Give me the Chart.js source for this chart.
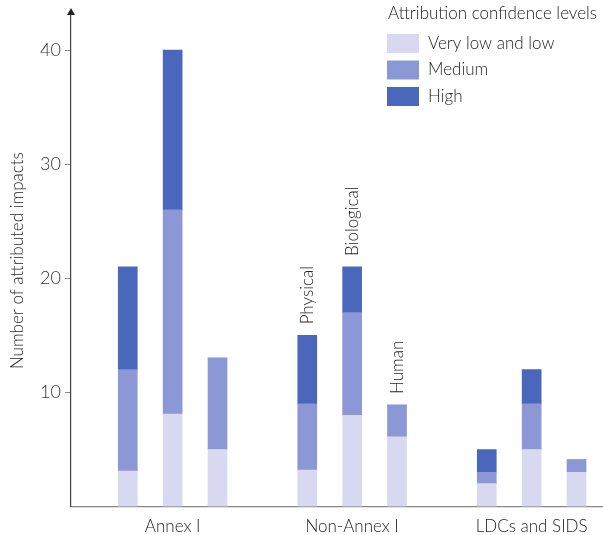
<!DOCTYPE html>
<html lang="en">

<head>
    <meta charset="UTF-8">
    <title>Attributed impacts</title>
    <style>
        html, body { margin: 0; padding: 0; background: #fff; }
        #wrap { width: 603px; height: 535px; }
    </style>
</head>

<body>
    <div id="wrap"><canvas id="myChart" width="603" height="535"></canvas></div>

    <script src="https://cdn.jsdelivr.net/npm/chart.js@4.4.1/dist/chart.umd.min.js"></script>
    <script>
        // 資料
        const groups = ['Annex I', 'Non-Annex I', 'LDCs and SIDS'];
        const impactTypes = ['Physical', 'Biological', 'Human'];
        // per bar: Annex I (P, B, H), Non-Annex I (P, B, H), LDCs and SIDS (P, B, H)
        const veryLowLow = [3.1, 8.1, 5, 3.2, 8, 6.1, 2, 5, 3];
        const medium = [8.9, 17.9, 8, 5.8, 9, 2.8, 1, 4, 1.1];
        const high = [9, 14, 0, 6, 4, 0, 2, 3, 0];
        const yTicks = [10, 20, 30, 40];
        const levelNames = ['Very low and low', 'Medium', 'High'];
        const colors = ['#d8d9f0', '#8c97d5', '#4a67bb'];

        // one empty slot between groups
        const xPos = (g, b) => g * 4 + b + 1;
        const toPoints = arr => arr.map((v, i) => ({ x: xPos(Math.floor(i / 3), i % 3), y: v }));

        const FONT = 'Lato, "Open Sans", sans-serif';
        const TEXT = '#1e1e1e';

        // legend + labels + arrow
        const extras = {
            id: 'extras',
            afterDraw(chart) {
                const ctx = chart.ctx;
                const area = chart.chartArea;
                const ys = chart.scales.y;
                const xs = chart.scales.x;
                ctx.save();

                // arrow on y axis
                ctx.fillStyle = '#222';
                ctx.beginPath();
                ctx.moveTo(area.left, 8);
                ctx.lineTo(area.left - 4, 15);
                ctx.lineTo(area.left + 4, 15);
                ctx.closePath();
                ctx.fill();

                // legend
                ctx.fillStyle = TEXT;
                ctx.font = '300 17px ' + FONT;
                ctx.textBaseline = 'middle';
                ctx.textAlign = 'left';
                ctx.fillText('Attribution confidence levels', 388, 14);
                ctx.font = '300 17px ' + FONT;
                chart.data.datasets.forEach((ds, i) => {
                    const cy = 43.5 + i * 26.5;
                    ctx.fillStyle = ds.backgroundColor;
                    ctx.fillRect(387, cy - 9.5, 32, 19);
                    ctx.fillStyle = TEXT;
                    ctx.fillText(ds.label, 428, cy);
                });

                // bar labels over Non-Annex I
                ctx.font = '300 17px ' + FONT;
                ctx.fillStyle = TEXT;
                impactTypes.forEach((t, b) => {
                    const i = 3 + b;
                    const total = veryLowLow[i] + medium[i] + high[i];
                    const px = xs.getPixelForValue(xPos(1, b));
                    const py = ys.getPixelForValue(total) - 11;
                    ctx.save();
                    ctx.translate(px, py);
                    ctx.rotate(-Math.PI / 2);
                    ctx.textAlign = 'left';
                    ctx.textBaseline = 'middle';
                    ctx.fillText(t, 0, 0);
                    ctx.restore();
                });
                ctx.restore();
            }
        };

        const ctx = document.getElementById('myChart').getContext('2d');
        const myChart = new Chart(ctx, {
            type: 'bar',
            data: {
                datasets: [
                    { label: levelNames[0], data: toPoints(veryLowLow), backgroundColor: colors[0] },
                    { label: levelNames[1], data: toPoints(medium), backgroundColor: colors[1] },
                    { label: levelNames[2], data: toPoints(high), backgroundColor: colors[2] }
                ]
            },
            options: {
                responsive: false,
                animation: false,
                barThickness: 19,
                layout: { padding: { top: 9, right: 0, left: 0, bottom: 0 } },
                scales: {
                    x: {
                        type: 'linear',
                        stacked: true,
                        offset: false,
                        min: -0.265,
                        max: 11.59,
                        afterBuildTicks: s => { s.ticks = groups.map((g, i) => ({ value: xPos(i, 1) })); },
                        afterFit: s => { s.height = 28.5; },
                        ticks: {
                            callback: (v) => groups[(v - 2) / 4],
                            color: TEXT,
                            font: { family: FONT, size: 17, weight: '300' },
                            padding: 2,
                            autoSkip: false,
                            maxRotation: 0
                        },
                        grid: { display: false, offset: false },
                        border: { display: true, color: '#888', width: 1.2 }
                    },
                    y: {
                        stacked: true,
                        min: 0,
                        max: 43.1,
                        afterBuildTicks: s => { s.ticks = yTicks.map(v => ({ value: v })); },
                        afterFit: s => { s.width = 71; },
                        ticks: {
                            color: '#333',
                            font: { family: FONT, size: 18, weight: '300' },
                            padding: 4
                        },
                        grid: { drawOnChartArea: false, tickLength: 6, color: '#888' },
                        border: { display: true, color: '#444', width: 1.2 },
                        title: {
                            display: true,
                            text: 'Number of attributed impacts',
                            color: TEXT,
                            font: { family: FONT, size: 17, weight: '300' },
                            padding: { top: 7, bottom: 0 }
                        }
                    }
                },
                plugins: {
                    legend: { display: false },
                    tooltip: { enabled: false }
                }
            },
            plugins: [extras]
        });
    </script>

</body>

</html>
